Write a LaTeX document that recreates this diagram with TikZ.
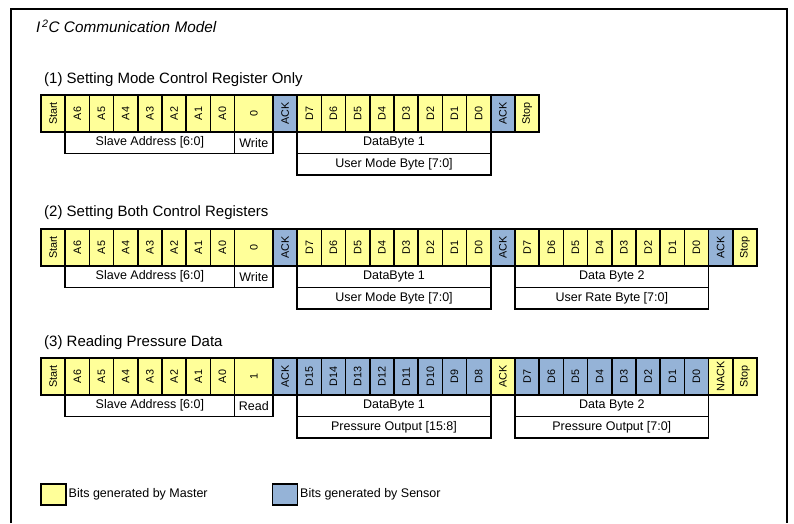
\documentclass[tikz,border=0pt]{standalone}
\usepackage{fontspec}
\setmainfont{Liberation Sans}
\usepackage{graphicx}
\definecolor{mastery}{RGB}{255,255,153}
\definecolor{sensorb}{RGB}{149,179,215}
\newcommand\rot[1]{\rotatebox{90}{#1}}
\begin{document}
\begin{tikzpicture}[x=1pt,y=-1pt,
  cellbase/.style={draw, line width=1.5pt, rectangle, minimum width=24.2pt, minimum height=37pt,
    inner sep=0pt, outer sep=0pt, anchor=north west, font=\fontsize{10.8}{12}\selectfont},
  cellY/.style={cellbase, fill=mastery},
  cellB/.style={cellbase, fill=sensorb},
  labbox/.style={draw, line width=1.5pt, rectangle, minimum height=21.5pt, inner sep=0pt,
    outer sep=0pt, anchor=north west, font=\fontsize{12.5}{14}\selectfont},
  rowtitle/.style={anchor=west, inner sep=0pt, font=\fontsize{15}{17}\selectfont},
  legbox/.style={draw, line width=1.5pt, rectangle, minimum width=25pt, minimum height=21pt,
    inner sep=0pt, outer sep=0pt, anchor=north west},
  legtext/.style={anchor=west, inner sep=0pt, font=\fontsize{12.5}{14}\selectfont}
]
\useasboundingbox (0,0) rectangle (794,523);
\def\u{24.2}
% frame
\coordinate (fbl) at (11,523);
\coordinate (ftl) at (11,9);
\coordinate (ftr) at (787,9);
\coordinate (fbr) at (787,523);
\draw[line width=1.6pt] (fbl) -- (ftl) -- (ftr) -- (fbr);
\node[anchor=west, inner sep=0pt, font=\fontsize{15.3}{17}\selectfont\itshape] (title) at (36,26)
  {I\textsuperscript{\,2}C Communication Model};

% ---------- Row 1 ----------
\node[rowtitle] (t1) at (44,80) {(1) Setting Mode Control Register Only};
\node[cellY] (r1s) at (41,95) {\rot{Start}};
\foreach \t [count=\i from 0] in {A6,A5,A4,A3,A2,A1,A0}
  \node[cellY] (r1a\i) at ({65.2+\i*\u},95) {\rot{\t}};
\node[cellY, minimum width=38.4pt] (r1rw) at (234.6,95) {\rot{0}};
\node[cellB] (r1k1) at (273,95) {\rot{ACK}};
\foreach \t [count=\i from 0] in {D7,D6,D5,D4,D3,D2,D1,D0}
  \node[cellY] (r1d\i) at ({297.2+\i*\u},95) {\rot{\t}};
\node[cellB] (r1k2) at (490.8,95) {\rot{ACK}};
\node[cellY] (r1p) at (515,95) {\rot{Stop}};
\node[labbox, minimum width=169.4pt] (r1sa) at (65.2,132) {Slave Address [6:0]};
\node[labbox, minimum width=38.4pt] (r1w) at (234.6,132) {Write};
\node[labbox, minimum width=193.6pt] (r1db) at (297.2,132) {DataByte 1};
\node[labbox, minimum width=193.6pt] (r1um) at (297.2,153.5) {User Mode Byte [7:0]};

% ---------- Row 2 ----------
\node[rowtitle] (t2) at (44,213) {(2) Setting Both Control Registers};
\node[cellY] (r2s) at (41,229) {\rot{Start}};
\foreach \t [count=\i from 0] in {A6,A5,A4,A3,A2,A1,A0}
  \node[cellY] (r2a\i) at ({65.2+\i*\u},229) {\rot{\t}};
\node[cellY, minimum width=38.4pt] (r2rw) at (234.6,229) {\rot{0}};
\node[cellB] (r2k1) at (273,229) {\rot{ACK}};
\foreach \t [count=\i from 0] in {D7,D6,D5,D4,D3,D2,D1,D0}
  \node[cellY] (r2d\i) at ({297.2+\i*\u},229) {\rot{\t}};
\node[cellB] (r2k2) at (490.8,229) {\rot{ACK}};
\foreach \t [count=\i from 0] in {D7,D6,D5,D4,D3,D2,D1,D0}
  \node[cellY] (r2e\i) at ({515+\i*\u},229) {\rot{\t}};
\node[cellB] (r2k3) at (708.6,229) {\rot{ACK}};
\node[cellY] (r2p) at (732.8,229) {\rot{Stop}};
\node[labbox, minimum width=169.4pt] (r2sa) at (65.2,266) {Slave Address [6:0]};
\node[labbox, minimum width=38.4pt] (r2w) at (234.6,266) {Write};
\node[labbox, minimum width=193.6pt] (r2db) at (297.2,266) {DataByte 1};
\node[labbox, minimum width=193.6pt] (r2um) at (297.2,287.5) {User Mode Byte [7:0]};
\node[labbox, minimum width=193.6pt] (r2db2) at (515,266) {Data Byte 2};
\node[labbox, minimum width=193.6pt] (r2ur) at (515,287.5) {User Rate Byte [7:0]};

% ---------- Row 3 ----------
\node[rowtitle] (t3) at (44,343) {(3) Reading Pressure Data};
\node[cellY] (r3s) at (41,358) {\rot{Start}};
\foreach \t [count=\i from 0] in {A6,A5,A4,A3,A2,A1,A0}
  \node[cellY] (r3a\i) at ({65.2+\i*\u},358) {\rot{\t}};
\node[cellY, minimum width=38.4pt] (r3rw) at (234.6,358) {\rot{1}};
\node[cellB] (r3k1) at (273,358) {\rot{ACK}};
\foreach \t [count=\i from 0] in {D15,D14,D13,D12,D11,D10,D9,D8}
  \node[cellB] (r3d\i) at ({297.2+\i*\u},358) {\rot{\t}};
\node[cellY] (r3k2) at (490.8,358) {\rot{ACK}};
\foreach \t [count=\i from 0] in {D7,D6,D5,D4,D3,D2,D1,D0}
  \node[cellB] (r3e\i) at ({515+\i*\u},358) {\rot{\t}};
\node[cellY] (r3k3) at (708.6,358) {\rot{NACK}};
\node[cellY] (r3p) at (732.8,358) {\rot{Stop}};
\node[labbox, minimum width=169.4pt] (r3sa) at (65.2,395) {Slave Address [6:0]};
\node[labbox, minimum width=38.4pt] (r3w) at (234.6,395) {Read};
\node[labbox, minimum width=193.6pt] (r3db) at (297.2,395) {DataByte 1};
\node[labbox, minimum width=193.6pt] (r3po) at (297.2,416.5) {Pressure Output [15:8]};
\node[labbox, minimum width=193.6pt] (r3db2) at (515,395) {Data Byte 2};
\node[labbox, minimum width=193.6pt] (r3pl) at (515,416.5) {Pressure Output [7:0]};

% ---------- Legend ----------
\node[legbox, fill=mastery] (lm) at (41,484) {};
\node[legtext] (lmt) at (68.5,494.5) {Bits generated by Master};
\node[legbox, fill=sensorb] (ls) at (272.5,484) {};
\node[legtext] (lst) at (300,494.5) {Bits generated by Sensor};
\end{tikzpicture}
\end{document}
